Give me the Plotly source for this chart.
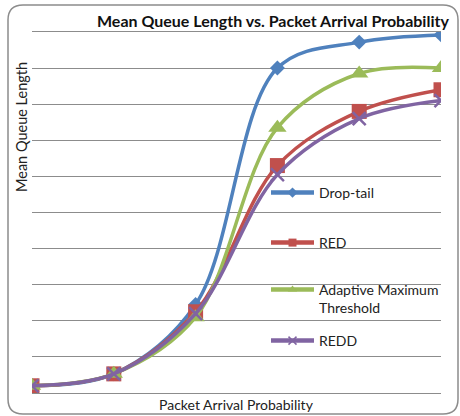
import plotly.graph_objects as go

# ---- data ----
categories = [1, 2, 3, 4, 5, 6]
series_names = ["Drop-tail", "RED", "Adaptive Maximum<br>Threshold", "REDD"]
drop_tail = [0.2, 0.53, 2.45, 9.0, 9.72, 9.92]
red = [0.2, 0.53, 2.25, 6.3, 7.8, 8.4]
amt = [0.2, 0.53, 2.1, 7.35, 8.85, 9.0]
redd = [0.2, 0.53, 2.2, 6.05, 7.6, 8.1]

title_text = "Mean Queue Length vs. Packet Arrival Probability"
x_title = "Packet Arrival Probability"
y_title = "Mean Queue Length"

colors = ["#4F81BD", "#C0504D", "#9BBB59", "#8064A2"]
symbols = ["diamond", "square", "triangle-up", "x-thin"]
msizes = [11.5, 15, 16, 13]
values = [drop_tail, red, amt, redd]

W, H = 460, 416
L, R, T, B = 32, 19, 32, 23
pw, ph = W - L - R, H - T - B

def px(x):
    return (x - L) / pw

def py(y):
    return (H - B - y) / ph

fig = go.Figure()
xi = [c - 1 for c in categories]
for i in range(4):
    mk = dict(symbol=symbols[i], size=msizes[i], color=colors[i])
    if symbols[i] == "x-thin":
        mk["line"] = dict(color=colors[i], width=2.5)
    else:
        mk["line"] = dict(color=colors[i], width=0)
    fig.add_trace(go.Scatter(
        x=xi, y=values[i], mode="lines+markers",
        line=dict(color=colors[i], width=3.5, shape="spline", smoothing=1),
        marker=mk, showlegend=False, hoverinfo="skip"))

# legend items (small markers like the original legend)
legend_ids = ["legend", "legend2", "legend3", "legend4"]
leg_y = [187, 237, 284, 335]
for i in range(4):
    mk = dict(symbol=symbols[i], size=8, color=colors[i])
    if symbols[i] == "x-thin":
        mk["line"] = dict(color=colors[i], width=1.5)
    fig.add_trace(go.Scatter(
        x=[None], y=[None], mode="lines+markers", name=series_names[i],
        line=dict(color=colors[i], width=4.5), marker=mk,
        showlegend=True, legend=legend_ids[i]))

font_family = "Lato, Noto Sans, sans-serif"
leg_common = dict(bgcolor="rgba(0,0,0,0)", borderwidth=0, itemwidth=43,
                  font=dict(family=font_family, size=14, color="#222"),
                  xanchor="left", x=px(266), valign="top", itemsizing="trace")
layout_legends = {}
for i, lid in enumerate(legend_ids):
    d = dict(leg_common)
    d["y"] = py(leg_y[i] - 10)
    d["yanchor"] = "top"
    layout_legends[lid] = d

# rounded border
x0, y0, x1, y1, r = px(8), py(5), px(458), py(414), 15
rx, ry = r / pw, r / ph
border = (f"M{x0+rx},{y0} L{x1-rx},{y0} Q{x1},{y0} {x1},{y0-ry} "
          f"L{x1},{y1+ry} Q{x1},{y1} {x1-rx},{y1} L{x0+rx},{y1} "
          f"Q{x0},{y1} {x0},{y1+ry} L{x0},{y0-ry} Q{x0},{y0} {x0+rx},{y0} Z")

fig.update_layout(
    width=W, height=H,
    margin=dict(l=L, r=R, t=T, b=B, pad=0),
    paper_bgcolor="white", plot_bgcolor="white",
    font=dict(family=font_family, color="#222"),
    xaxis=dict(range=[0, 5], showgrid=False, zeroline=False, showticklabels=False,
               ticks="", showline=True, mirror=True, linecolor="#8c8c8c", linewidth=1,
               fixedrange=True),
    yaxis=dict(range=[0, 10], dtick=1, showgrid=True, gridcolor="#8c8c8c", gridwidth=1,
               zeroline=False, showticklabels=False, ticks="", showline=False,
               fixedrange=True),
    shapes=[dict(type="path", xref="paper", yref="paper", path=border,
                 line=dict(color="#8c8c8c", width=1.5), layer="below")],
    annotations=[
        dict(text="<b>" + title_text + "</b>", xref="paper", yref="paper", x=px(273), y=py(20),
             xanchor="center", yanchor="middle", showarrow=False,
             font=dict(family=font_family, size=16, color="#111")),
        dict(text=x_title, xref="paper", yref="paper", x=px(236), y=py(405),
             xanchor="center", yanchor="middle", showarrow=False,
             font=dict(family=font_family, size=14, color="#222")),
        dict(text=y_title, xref="paper", yref="paper", x=px(21), y=py(127),
             xanchor="center", yanchor="middle", showarrow=False, textangle=-90,
             font=dict(family=font_family, size=14.5, color="#222")),
    ],
    **layout_legends,
)

fig.write_html("out.html")
